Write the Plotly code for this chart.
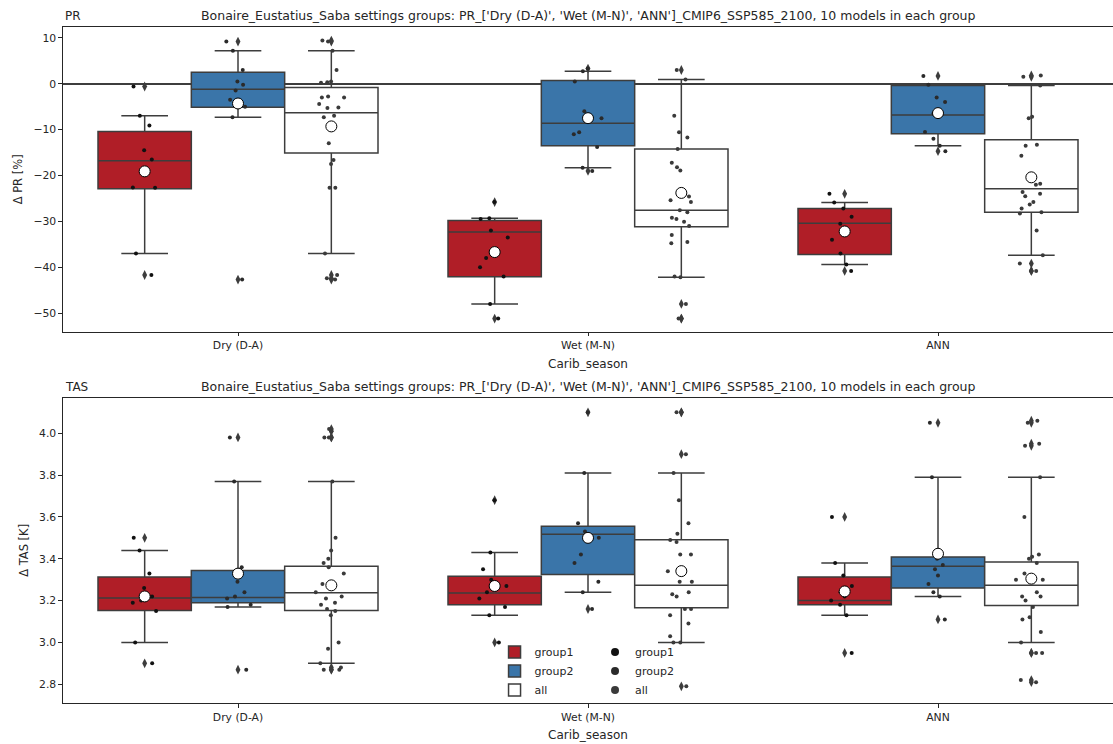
import plotly.graph_objects as go

CATEGORIES = ["Dry (D-A)", "Wet (M-N)", "ANN"]
HUES = ["group1", "group2", "all"]
FILL = {"group1": "#b01e27", "group2": "#3a75a9", "all": "#ffffff"}
DOT = {"group1": "#111111", "group2": "#2a2a2a", "all": "#3a3a3a"}
EDGE = "#3d3d3d"
TEXT = "#262626"

TITLE = ("Bonaire_Eustatius_Saba settings groups: PR_['Dry (D-A)', 'Wet (M-N)', 'ANN']"
         "_CMIP6_SSP585_2100, 10 models in each group")

# ---------------- PR (precipitation change, %) : model values per season ----------------
PR_GROUP1 = [
    [-0.6, -7.0, -9.1, -14.5, -16.5, -18.8, -22.6, -22.7, -37.0, -41.7],
    [-25.8, -29.3, -29.5, -32.0, -33.5, -38.0, -40.0, -42.0, -48.0, -51.2],
    [-24.0, -25.9, -27.2, -29.0, -30.5, -32.0, -34.0, -37.0, -39.4, -40.8],
]
PR_GROUP2 = [
    [9.2, 7.2, 3.0, 0.5, -0.2, -1.5, -3.5, -5.0, -7.3, -42.7],
    [3.3, 2.7, 0.5, -6.0, -7.5, -10.6, -11.0, -13.8, -18.3, -19.0],
    [1.7, -0.2, -3.0, -4.0, -6.5, -7.2, -10.5, -12.0, -13.5, -14.7],
]
PR_ALL = [
    [9.4, 9.2, 7.2, 3.0, 0.5, 0.3, 0.2, -2.8, -3.0, -3.0, -4.4, -5.2, -5.3, -7.0, -7.3,
     -13.0, -16.6, -17.5, -22.7, -22.7, -37.0, -41.7, -42.4, -42.7],
    [3.0, 0.9, -7.0, -10.6, -11.7, -14.2, -17.2, -18.2, -18.9, -24.6, -25.4, -25.8, -27.6,
     -28.0, -29.2, -29.5, -30.1, -31.0, -33.0, -34.5, -34.8, -42.0, -42.2, -48.0, -51.2, -51.2],
    [1.8, 1.5, -0.4, -7.2, -7.5, -13.3, -13.5, -15.7, -21.8, -22.0, -23.6, -24.0, -24.5,
     -25.8, -26.3, -27.2, -28.0, -28.3, -32.0, -37.4, -39.2, -40.8, -40.8],
]
PR_Q1 = {"group1": [-22.9, -42.1, -37.2], "group2": [-5.1, -13.5, -10.9], "all": [-15.1, -31.2, -28.0]}
PR_MEDIAN = {"group1": [-16.8, -32.3, -30.4], "group2": [-1.2, -8.6, -6.8], "all": [-6.3, -27.6, -22.9]}
PR_Q3 = {"group1": [-10.4, -29.8, -27.2], "group2": [2.5, 0.7, -0.4], "all": [-0.8, -14.2, -12.2]}
PR_LOW = {"group1": [-37.0, -48.0, -39.4], "group2": [-7.3, -18.3, -13.5], "all": [-37.0, -42.2, -37.4]}
PR_HIGH = {"group1": [-7.0, -29.3, -25.9], "group2": [7.2, 2.7, -0.2], "all": [7.2, 0.9, -0.4]}
PR_MEAN = {"group1": [-19.1, -36.7, -32.2], "group2": [-4.3, -7.5, -6.4], "all": [-9.3, -23.8, -20.4]}

# ---------------- TAS (temperature change, K) ----------------
TAS_GROUP1 = [
    [3.50, 3.44, 3.33, 3.26, 3.22, 3.20, 3.19, 3.15, 3.00, 2.90],
    [3.68, 3.43, 3.35, 3.30, 3.27, 3.24, 3.21, 3.17, 3.13, 3.00],
    [3.60, 3.38, 3.32, 3.27, 3.24, 3.22, 3.20, 3.18, 3.13, 2.95],
]
TAS_GROUP2 = [
    [3.98, 3.77, 3.36, 3.29, 3.24, 3.22, 3.21, 3.18, 3.17, 2.87],
    [4.10, 3.81, 3.57, 3.53, 3.50, 3.42, 3.38, 3.29, 3.24, 3.16],
    [4.05, 3.79, 3.40, 3.37, 3.35, 3.32, 3.28, 3.24, 3.22, 3.11],
]
TAS_ALL = [
    [4.02, 4.01, 3.98, 3.98, 3.77, 3.50, 3.44, 3.40, 3.38, 3.36, 3.33, 3.28, 3.24, 3.22,
     3.21, 3.19, 3.18, 3.16, 3.15, 3.13, 3.00, 2.97, 2.90, 2.88, 2.87, 2.87],
    [4.10, 4.10, 3.90, 3.81, 3.68, 3.57, 3.52, 3.49, 3.48, 3.42, 3.42, 3.34, 3.29, 3.29,
     3.24, 3.23, 3.22, 3.16, 3.16, 3.13, 3.09, 3.03, 3.00, 3.00, 2.79],
    [4.06, 4.05, 3.95, 3.94, 3.79, 3.60, 3.42, 3.41, 3.40, 3.38, 3.33, 3.30, 3.30, 3.24,
     3.22, 3.22, 3.20, 3.17, 3.12, 3.11, 3.05, 3.00, 2.95, 2.95, 2.82, 2.81],
]
TAS_Q1 = {"group1": [3.153, 3.180, 3.180], "group2": [3.190, 3.325, 3.260], "all": [3.153, 3.166, 3.177]}
TAS_MEDIAN = {"group1": [3.212, 3.236, 3.201], "group2": [3.215, 3.517, 3.364], "all": [3.238, 3.273, 3.273]}
TAS_Q3 = {"group1": [3.313, 3.317, 3.313], "group2": [3.344, 3.556, 3.408], "all": [3.364, 3.491, 3.385]}
TAS_LOW = {"group1": [3.00, 3.13, 3.13], "group2": [3.17, 3.24, 3.22], "all": [2.90, 3.00, 3.00]}
TAS_HIGH = {"group1": [3.44, 3.43, 3.38], "group2": [3.77, 3.81, 3.79], "all": [3.77, 3.81, 3.79]}
TAS_MEAN = {"group1": [3.220, 3.270, 3.244], "group2": [3.329, 3.500, 3.424], "all": [3.273, 3.341, 3.305]}

PR_POINTS = {"group1": PR_GROUP1, "group2": PR_GROUP2, "all": PR_ALL}
TAS_POINTS = {"group1": TAS_GROUP1, "group2": TAS_GROUP2, "all": TAS_ALL}

fig = go.Figure()
CLEAR = "rgba(0,0,0,0)"


def point_box(xa, ya, hue, xs, ys, marker, jitter):
    return go.Box(
        x=xs, y=ys, boxpoints="all", jitter=jitter, pointpos=0,
        fillcolor=CLEAR, line=dict(width=0, color=CLEAR), marker=marker,
        offsetgroup=hue, xaxis=xa, yaxis=ya, showlegend=False,
        hoveron="points", name=hue,
    )


def add_panel(xa, ya, points, q1, med, q3, low, high, mean, legend):
    for hue in HUES:
        fig.add_trace(go.Box(
            x=CATEGORIES, q1=q1[hue], median=med[hue], q3=q3[hue],
            lowerfence=low[hue], upperfence=high[hue], boxpoints=False,
            name=hue, fillcolor=FILL[hue], line=dict(color=EDGE, width=1.5),
            whiskerwidth=0.5, offsetgroup=hue, xaxis=xa, yaxis=ya,
            showlegend=legend, legend="legend",
        ))
    for hue in HUES:
        fx, fy = [], []
        for cat, vals, lo, hi in zip(CATEGORIES, points[hue], low[hue], high[hue]):
            for v in vals:
                if v < lo or v > hi:
                    fx.append(cat)
                    fy.append(v)
        fig.add_trace(point_box(xa, ya, hue, fx, fy,
                                dict(symbol="diamond-tall", size=7, color=EDGE), 0))
    for hue in HUES:
        sx, sy = [], []
        for cat, vals in zip(CATEGORIES, points[hue]):
            sx += [cat] * len(vals)
            sy += vals
        fig.add_trace(point_box(xa, ya, hue, sx, sy,
                                dict(symbol="circle", size=4, color=DOT[hue]), 0.35))
    for hue in HUES:
        fig.add_trace(point_box(xa, ya, hue, CATEGORIES, mean[hue],
                                dict(symbol="circle", size=11, color="white",
                                     line=dict(color="black", width=1)), 0))


add_panel("x", "y", PR_POINTS, PR_Q1, PR_MEDIAN, PR_Q3, PR_LOW, PR_HIGH, PR_MEAN, False)
add_panel("x2", "y2", TAS_POINTS, TAS_Q1, TAS_MEDIAN, TAS_Q3, TAS_LOW, TAS_HIGH, TAS_MEAN, True)

for hue in HUES:
    fig.add_trace(go.Scatter(
        x=[None], y=[None], mode="markers", name=hue,
        marker=dict(color=DOT[hue], size=8), xaxis="x2", yaxis="y2",
        legend="legend2", showlegend=True,
    ))

axis_common = dict(
    showline=True, linecolor=TEXT, linewidth=1.2, mirror=True,
    ticks="outside", ticklen=3.5, tickwidth=1, tickcolor=TEXT,
    showgrid=False, tickfont=dict(size=10.8, color=TEXT),
)

fig.update_layout(
    width=1113, height=744,
    margin=dict(l=63, r=0, t=27, b=41),
    paper_bgcolor="white", plot_bgcolor="white",
    font=dict(family="DejaVu Sans", color=TEXT, size=11),
    boxmode="group", boxgap=0.2, boxgroupgap=0,
    xaxis=dict(**axis_common, domain=[0, 1], anchor="y", range=[-0.5, 2.5],
               categoryorder="array", categoryarray=CATEGORIES,
               title=dict(text="Carib_season", font=dict(size=12), standoff=8)),
    yaxis=dict(**axis_common, domain=[0.5493, 1.0], anchor="x", range=[-54.05, 12.37],
               dtick=10, tick0=0, zeroline=True, zerolinecolor=EDGE, zerolinewidth=1.5,
               title=dict(text="Δ PR [%]", font=dict(size=11.5), standoff=8)),
    xaxis2=dict(**axis_common, domain=[0, 1], anchor="y2", range=[-0.5, 2.5],
                categoryorder="array", categoryarray=CATEGORIES,
                title=dict(text="Carib_season", font=dict(size=12), standoff=8)),
    yaxis2=dict(**axis_common, domain=[0, 0.4516], anchor="x2", range=[2.7105, 4.170],
                dtick=0.2, tick0=0, tickformat=".1f", zeroline=False,
                title=dict(text="Δ TAS [K]", font=dict(size=11.5), standoff=8)),
    showlegend=True,
    legend=dict(x=0.411, y=0.0969, xanchor="left", yanchor="top", bgcolor=CLEAR,
                font=dict(size=11, color=TEXT), tracegroupgap=0),
    legend2=dict(x=0.5067, y=0.0969, xanchor="left", yanchor="top", bgcolor=CLEAR,
                 font=dict(size=11, color=TEXT), tracegroupgap=0),
)

for xd, yd, name in [("x domain", "y domain", "PR"), ("x2 domain", "y2 domain", "TAS")]:
    fig.add_annotation(text=name, xref=xd, yref=yd, x=0, y=1, xanchor="left",
                       yanchor="bottom", showarrow=False, yshift=2,
                       font=dict(size=12, color=TEXT))
    fig.add_annotation(text=TITLE, xref=xd, yref=yd, x=0.5, y=1, xanchor="center",
                       yanchor="bottom", showarrow=False, yshift=2,
                       font=dict(size=12.5, color=TEXT))

fig.write_html("out.html", config={"displayModeBar": False},
               post_script="document.body.style.margin='0';document.body.style.padding='0';")
